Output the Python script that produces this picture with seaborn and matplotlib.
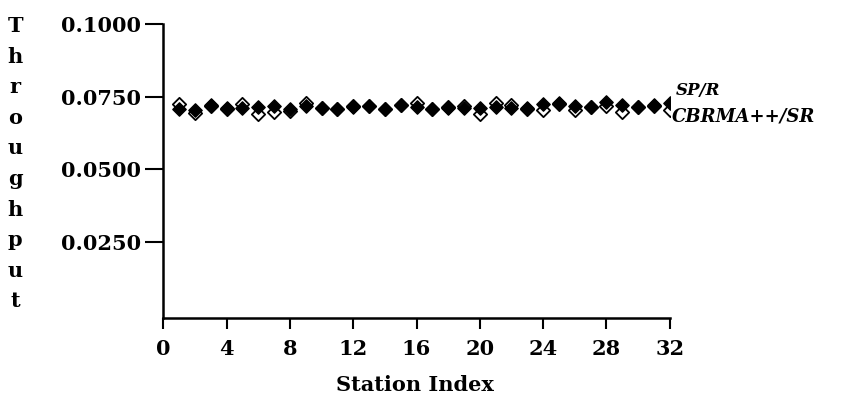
import matplotlib
matplotlib.use("Agg")
import matplotlib.pyplot as plt
import seaborn as sns
import pandas as pd

stations = list(range(1, 33))
sp_r = [0.0708, 0.0704, 0.0721, 0.0711, 0.0712, 0.0716, 0.0717, 0.0707, 0.0719, 0.0711,
        0.0707, 0.0715, 0.0719, 0.0707, 0.0721, 0.0715, 0.0707, 0.0711, 0.0711, 0.0711,
        0.0715, 0.0711, 0.0712, 0.0726, 0.0727, 0.0719, 0.0715, 0.0731, 0.0721, 0.0715,
        0.0721, 0.0727]
cbrma_sr = [0.0725, 0.0694, 0.0718, 0.0709, 0.0725, 0.0691, 0.0697, 0.0702, 0.0727, 0.0710,
            0.0706, 0.0719, 0.0718, 0.0706, 0.0720, 0.0728, 0.0706, 0.0715, 0.0719, 0.0690,
            0.0728, 0.0720, 0.0706, 0.0705, 0.0726, 0.0705, 0.0714, 0.0717, 0.0697, 0.0714,
            0.0718, 0.0703]
xticks = [0, 4, 8, 12, 16, 20, 24, 28, 32]
yticks = [0.0250, 0.0500, 0.0750, 0.1000]
series_labels = ["SP/R", "CBRMA++/SR"]

df_sp = pd.DataFrame({"station": stations, "tp": sp_r})
df_cb = pd.DataFrame({"station": stations, "tp": cbrma_sr})

sns.set_style("ticks")
plt.rcParams["font.family"] = ["DejaVu Serif", "Liberation Serif"]
plt.rcParams["text.color"] = "black"
plt.rcParams["xtick.color"] = "black"
plt.rcParams["ytick.color"] = "black"

fig = plt.figure(figsize=(8.5, 4), dpi=100)
ax = fig.add_axes([0.192, 0.205, 0.596, 0.735])

sns.scatterplot(data=df_cb, x="station", y="tp", marker="D", s=46,
                facecolor="white", edgecolor="black", linewidth=1.3, ax=ax, zorder=2)
sns.scatterplot(data=df_sp, x="station", y="tp", marker="D", s=46,
                color="black", edgecolor="black", linewidth=1.0, ax=ax, zorder=3)

ax.set_xlim(0, 32)
ax.set_ylim(-0.0011, 0.1)
ax.set_xticks(xticks)
ax.set_xticklabels([str(t) for t in xticks], fontsize=15, fontweight="bold")
ax.set_yticks(yticks)
ax.set_yticklabels([f"{t:.4f}" for t in yticks], fontsize=15, fontweight="bold")
ax.tick_params(axis="y", direction="out", length=13, width=1.5, colors="black", pad=3)
ax.tick_params(axis="x", direction="out", length=8, width=1.5, colors="black", pad=7)
sns.despine(ax=ax)
for s in ["left", "bottom"]:
    ax.spines[s].set_linewidth(1.8)
    ax.spines[s].set_color("black")

ax.set_xlabel("")
ax.set_ylabel("")
fig.text(0.488, 0.037, "Station Index", ha="center", va="center",
         fontsize=15, fontweight="bold")
ylab = "Throughput"
for i, ch in enumerate(ylab):
    fig.text(0.018, 0.935 - i * 0.0765, ch, ha="center", va="center",
             fontsize=15, fontweight="bold")

ax.text(32.35, 0.0773, series_labels[0], ha="left", va="center",
        fontsize=12, fontweight="bold", style="italic")
ax.text(32.1, 0.0683, series_labels[1], ha="left", va="center",
        fontsize=13, fontweight="bold", style="italic")

fig.savefig("out.png", dpi=100)
